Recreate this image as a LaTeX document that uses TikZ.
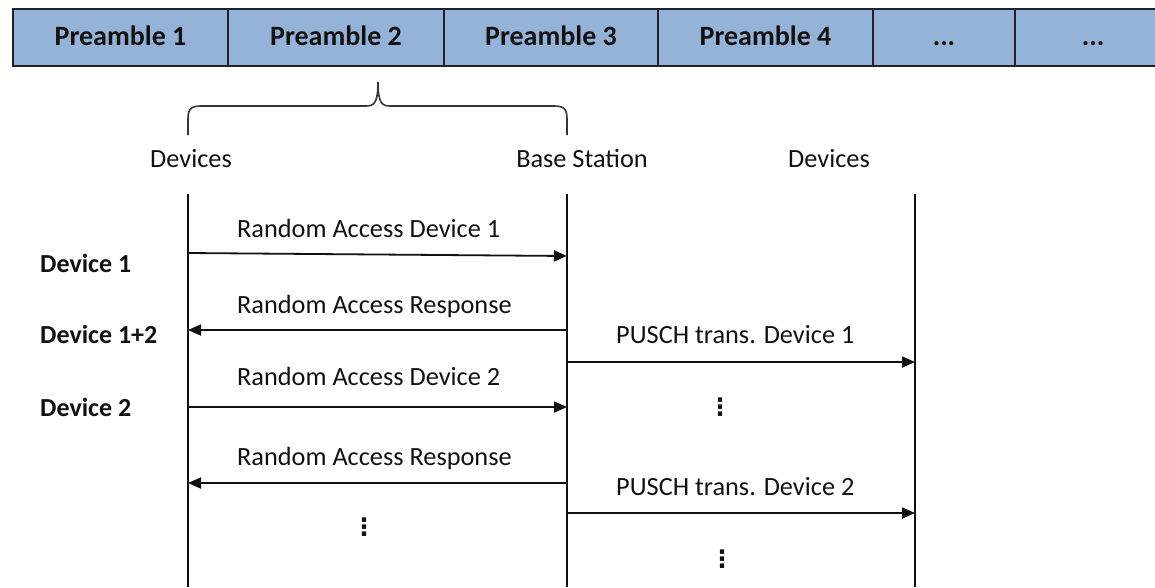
\documentclass[tikz,border=0pt]{standalone}
\usepackage{fontspec}
\setmainfont{Carlito}
\newfontfamily\symfont{DejaVu Sans}
\usetikzlibrary{arrows.meta}
\definecolor{barfill}{HTML}{95B3D7}
\definecolor{barline}{HTML}{1E232B}
\definecolor{ink}{HTML}{111111}
\begin{document}
\begin{tikzpicture}[x=1pt,y=-1pt,
  cell/.style={font=\fontsize{28}{32}\selectfont\bfseries, text=ink, anchor=base},
  head/.style={font=\fontsize{26.3}{30}\selectfont, text=ink, anchor=base},
  msg/.style={font=\fontsize{26.3}{30}\selectfont, text=ink, anchor=base west, inner sep=0pt},
  dev/.style={font=\fontsize{26}{30}\selectfont\bfseries, text=ink, anchor=base west, inner sep=0pt},
  gap/.style={font=\symfont\fontsize{24}{28}\selectfont\bfseries, text=ink, inner sep=0pt},
  life/.style={draw=ink, line width=1.8pt},
  sig/.style={draw=ink, line width=1.8pt, -{Triangle[length=13pt,width=11pt]}},
  brace/.style={draw=ink!85, line width=1.6pt}]
\useasboundingbox (0,0) rectangle (1155,587);

% preamble bar
\fill[barfill] (13,9) rectangle (1155,66);
\draw[barline, line width=2.4pt] (1155,9) -- (13,9) -- (13,66) -- (1155,66);
\foreach \xx in {228,444,658,873,1015}
  \draw[barline, line width=2pt] (\xx,9) -- (\xx,66);
\node[cell] (p1) at (120.5,45) {Preamble 1};
\node[cell] (p2) at (336,45) {Preamble 2};
\node[cell] (p3) at (551,45) {Preamble 3};
\node[cell] (p4) at (765.5,45) {Preamble 4};
\node[cell] (p5) at (944,45) {...};
\node[cell] (p6) at (1093,45) {...};

% brace under Preamble 2
\coordinate (btip) at (378,82);
\draw[brace] (188,135) -- (188,119) .. controls (188,109) and (191,106) .. (201,106)
  -- (366,106) .. controls (374,106) and (378,103) .. (btip)
  .. controls (378,103) and (382,106) .. (390,106)
  -- (554,106) .. controls (564,106) and (567,109) .. (567,119) -- (567,135);

% column headings
\node[head] (hdev) at (191,167) {Devices};
\node[head] (hbs) at (582,167) {Base Station};
\node[head] (hdev2) at (829,167) {Devices};

% lifelines
\coordinate (devtop) at (188,194);  \coordinate (devbot) at (188,587);
\coordinate (bstop) at (567,194);   \coordinate (bsbot) at (567,587);
\coordinate (rxtop) at (915,194);   \coordinate (rxbot) at (915,587);
\draw[life] (devtop) -- (devbot);
\draw[life] (bstop) -- (bsbot);
\draw[life] (rxtop) -- (rxbot);

% device labels
\node[dev] (d1) at (40,272) {Device 1};
\node[dev] (d12) at (40,343) {Device 1+2};
\node[dev] (d2) at (40,416) {Device 2};

% message endpoints
\coordinate (a1s) at (188,253); \coordinate (a1e) at (567,256);
\coordinate (a2s) at (567,330); \coordinate (a2e) at (188,330);
\coordinate (a3s) at (188,407); \coordinate (a3e) at (567,407);
\coordinate (a4s) at (567,483); \coordinate (a4e) at (188,483);
\coordinate (u1s) at (567,362); \coordinate (u1e) at (915,362);
\coordinate (u2s) at (567,513); \coordinate (u2e) at (915,513);

\draw[sig] (a1s) -- (a1e);
\draw[sig] (a2s) -- (a2e);
\draw[sig] (a3s) -- (a3e);
\draw[sig] (a4s) -- (a4e);
\draw[sig] (u1s) -- (u1e);
\draw[sig] (u2s) -- (u2e);

% message labels
\node[msg] (m1) at (237,237) {Random Access Device 1};
\node[msg] (m2) at (237,313) {Random Access Response};
\node[msg] (m3) at (237,385) {Random Access Device 2};
\node[msg] (m4) at (237,465) {Random Access Response};
\node[msg] (m5) at (616,343) {PUSCH trans. Device 1};
\node[msg] (m6) at (616,495) {PUSCH trans. Device 2};

% continuation marks
\node[gap] (g1) at (364,527) {⋮};
\node[gap] (g2) at (720,407) {⋮};
\node[gap] (g3) at (722,559) {⋮};
\end{tikzpicture}
\end{document}
